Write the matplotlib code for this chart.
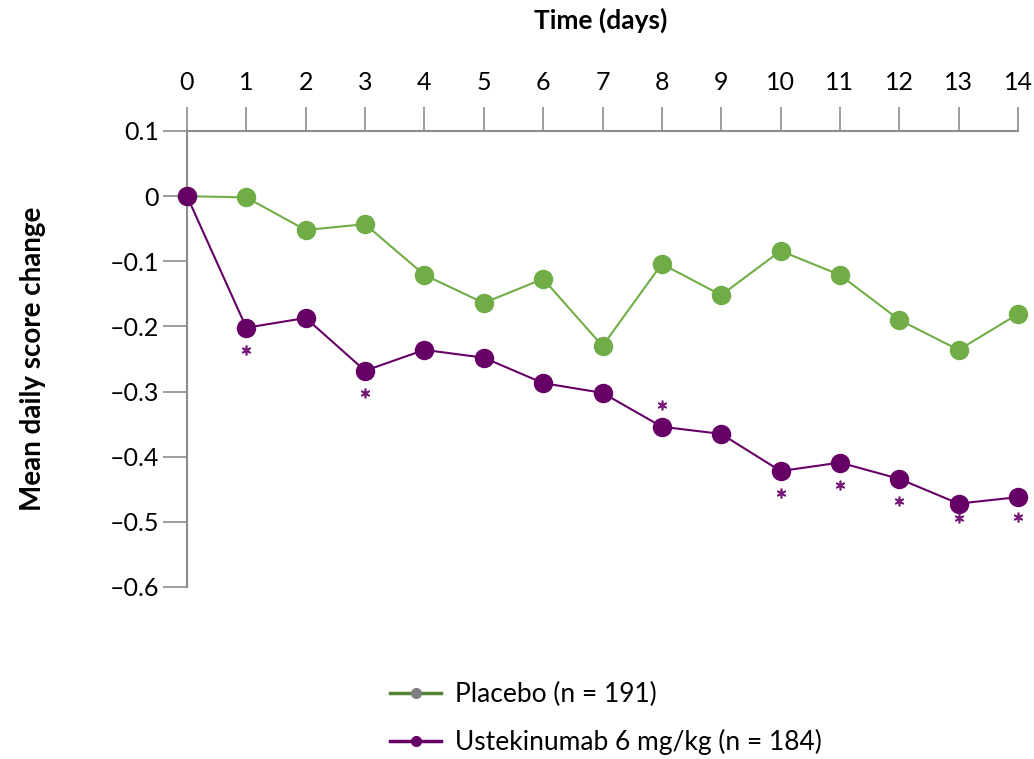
import matplotlib.pyplot as plt
import matplotlib.transforms as mtransforms
from matplotlib.lines import Line2D

plt.rcParams['font.family'] = ['Lato', 'DejaVu Sans']

days = list(range(15))
placebo = [0, -0.002, -0.052, -0.043, -0.121, -0.164, -0.127, -0.230,
           -0.104, -0.152, -0.084, -0.121, -0.190, -0.236, -0.181]
ustek = [0, -0.202, -0.187, -0.268, -0.236, -0.248, -0.287, -0.302,
         -0.354, -0.365, -0.422, -0.409, -0.434, -0.472, -0.462]
# days marked with an asterisk
star_days = [1, 3, 8, 10, 11, 12, 13, 14]
# vertical offset of each asterisk from its point, in points (+ = above)
star_off = [-16, -16, 16, -16, -16, -16, -10, -14]

yticks = [0.1, 0, -0.1, -0.2, -0.3, -0.4, -0.5, -0.6]
ylabels = ['0.1', '0', '\u20130.1', '\u20130.2', '\u20130.3', '\u20130.4', '\u20130.5', '\u20130.6']

green = '#70ad47'
purple = '#660066'
grey = '#8c8c8c'

fig = plt.figure(figsize=(10.34, 7.59), dpi=100)
ax = fig.add_axes([187 / 1034, 1 - 587 / 759, (1018 - 187) / 1034, (587 - 131) / 759])

ax.plot(days, placebo, color=green, lw=1.5, marker='o', ms=13, zorder=3, clip_on=False)
ax.plot(days, ustek, color=purple, lw=1.5, marker='o', ms=13, zorder=4, clip_on=False)

# asterisks, shifted up/down from the points
for d, off in zip(star_days, star_off):
    shift = mtransforms.ScaledTranslation(0, off / 72, fig.dpi_scale_trans)
    ax.plot([d], [ustek[d]], linestyle='none', marker=(6, 2, 0), ms=7, mew=1.2,
            color='#771a77', zorder=5, clip_on=False, transform=ax.transData + shift)

ax.set_xlim(0, 14)
ax.set_ylim(-0.6, 0.1)
ax.xaxis.tick_top()
ax.set_xticks(days)
ax.set_yticks(yticks)
ax.set_yticklabels(ylabels)
ax.tick_params(axis='both', colors=grey, labelcolor='black', labelsize=18,
               length=17, width=1.2, direction='out')
ax.tick_params(axis='x', pad=10)
ax.tick_params(axis='y', pad=3)

for s in ['right', 'bottom']:
    ax.spines[s].set_visible(False)
for s in ['top', 'left']:
    ax.spines[s].set_color(grey)
    ax.spines[s].set_linewidth(1.5)

fig.text(601 / 1034, 1 - 20 / 759, 'Time (days)', fontsize=19, fontweight='bold',
         ha='center', va='center')
fig.text(33 / 1034, 1 - 359 / 759, 'Mean daily score change', fontsize=20,
         fontweight='bold', rotation=90, ha='center', va='center')

handles = [
    Line2D([], [], color='#548235', lw=2.5, marker='o', ms=7, markerfacecolor='#7f7f7f',
           markeredgecolor='#7f7f7f'),
    Line2D([], [], color=purple, lw=2.5, marker='o', ms=7),
]
fig.legend(handles, ['Placebo (n = 191)', 'Ustekinumab 6 mg/kg (n = 184)'],
           loc='center left', bbox_to_anchor=(390 / 1034, 1 - 718.5 / 759), frameon=False,
           fontsize=19, handlelength=1.95, handletextpad=0.5, labelspacing=0.85,
           borderpad=0, borderaxespad=0)

fig.savefig('out.png', dpi=100)
